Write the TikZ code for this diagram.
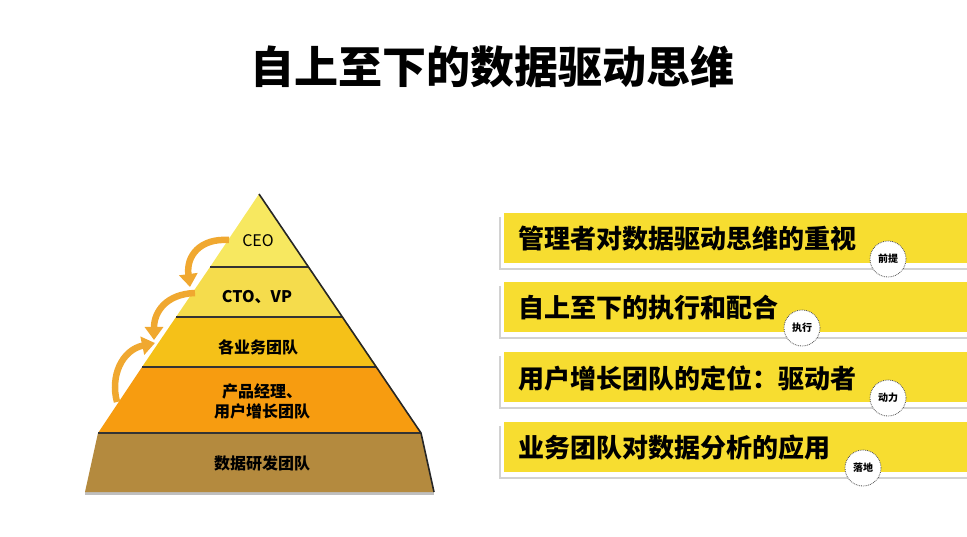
\documentclass[tikz,border=0pt]{standalone}
\usepackage{fontspec}
\setmainfont{Noto Sans CJK SC}
\usetikzlibrary{arrows.meta}

\definecolor{ceoY}{HTML}{F7E860}
\definecolor{ctoY}{HTML}{F5DC4C}
\definecolor{bizY}{HTML}{F5C118}
\definecolor{prodO}{HTML}{F79C10}
\definecolor{dataB}{HTML}{B48A3E}
\definecolor{barY}{HTML}{F7DD30}
\definecolor{arrO}{HTML}{F0A830}

\tikzset{
  layer/.style={font=\fontsize{16}{20}\selectfont\bfseries, align=center},
  bartext/.style={anchor=west, font=\fontsize{26}{30}\selectfont\bfseries},
  tag/.style={circle, fill=white, draw=black!70, densely dotted, thick,
    minimum size=36pt, inner sep=0pt, font=\fontsize{10}{12}\selectfont\bfseries},
  curlarrow/.style={arrO, line width=6.5pt, -{Triangle[width=18pt,length=13pt]}},
}

\begin{document}
\begin{tikzpicture}[x=1pt, y=-1pt]
      \useasboundingbox (0,0) rectangle (967,537);
      % title
      \node[font=\fontsize{44}{50}\selectfont\bfseries] (title) at (492,67) {自上至下的数据驱动思维};

      % pyramid layers
      \fill[gray!50] (85,492) rectangle (434,495);
      \fill[ceoY]  (259,194) -- (309,267) -- (210,267) -- cycle;
      \fill[ctoY]  (210,267) -- (309,267) -- (343,317) -- (176,317) -- cycle;
      \fill[bizY]  (176,317) -- (343,317) -- (377,367) -- (142,367) -- cycle;
      \fill[prodO] (142,367) -- (377,367) -- (421,433) -- (98,433) -- cycle;
      \fill[dataB] (98,433) -- (421,433) -- (434,492) -- (85,492) -- cycle;
      \foreach \y/\l/\r in {267/210/309, 317/176/343, 367/142/377, 433/98/421}
        \draw[black!80, line width=1.2pt] (\l,\y) -- (\r,\y);
      \draw[black!85, line width=1.6pt] (259,194) -- (421,433) -- (434,492);

      \node[layer, font=\fontsize{16}{20}\selectfont] (ceo) at (258,241) {CEO};
      \node[layer] (cto) at (257,297) {CTO、VP};
      \node[layer] (biz) at (258,347) {各业务团队};
      \node[layer] (prod) at (262,401) {产品经理、\\用户增长团队};
      \node[layer] (data) at (262,463) {数据研发团队};

      % curved arrows
      \coordinate (a1) at (229,240);
      \coordinate (b1) at (190,287);
      \coordinate (a2) at (195,293);
      \coordinate (b2) at (154,340);
      \coordinate (a3) at (117,402);
      \coordinate (b3) at (155,343);
      \draw[curlarrow] (a1) .. controls (200,238) and (186,256) .. (b1);
      \draw[curlarrow] (a2) .. controls (166,294) and (154,312) .. (b2);
      \draw[curlarrow] (a3) .. controls (110,376) and (122,350) .. (b3);

      % bars
      \foreach \y/\txt/\lab/\cx [count=\i] in {213/管理者对数据驱动思维的重视/前提/888,
          282/自上至下的执行和配合/执行/802,
          352/用户增长团队的定位：驱动者/动力/888,
          422/业务团队对数据分析的应用/落地/863} {
        \fill[gray!35] (499,{\y+4}) rectangle (967,{\y+57});
        \fill[white] (501,{\y+2}) rectangle (967,{\y+55});
        \fill[barY] (504,\y) rectangle (967,{\y+50});
        \node[bartext] (bar\i) at (515,{\y+26}) {\txt};
        \node[tag] (tag\i) at (\cx,{\y+46}) {\lab};
      }
    \end{tikzpicture}
\end{document}
